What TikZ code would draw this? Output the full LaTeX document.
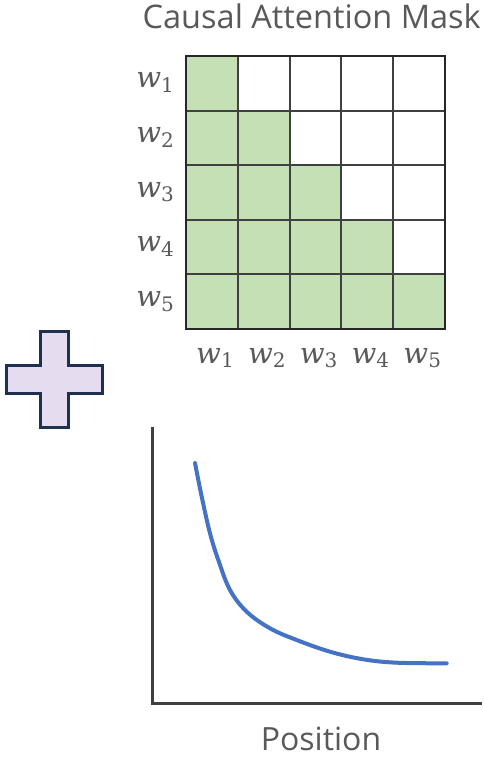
\documentclass[tikz,border=0pt]{standalone}
\usepackage{fontspec}
\setmainfont{Open Sans}
\newfontfamily\tokfont{DejaVu Serif}
\definecolor{maskgreen}{HTML}{C5E0B4}
\definecolor{labelgray}{HTML}{595959}
\definecolor{gridgray}{HTML}{404040}
\definecolor{plusfill}{HTML}{E6DCEF}
\definecolor{plusedge}{HTML}{1F3050}
\definecolor{curveblue}{HTML}{4472C4}
\newcommand{\tokw}[1]{{\tokfont\itshape w}\raisebox{-0.3ex}{\tokfont\fontsize{20}{20}\selectfont #1}}
\begin{document}
\begin{tikzpicture}[x=1pt,y=-1pt,every node/.style={text=labelgray,inner sep=0pt},
  tok/.style={font=\fontsize{29}{30}\selectfont},
  cell/.style={fill=maskgreen},
  gridline/.style={draw=gridgray,line width=2pt},
  axisline/.style={draw=gridgray,line width=3pt}]
  \useasboundingbox (0,0) rectangle (484,757);

  % Titulo
  \node[font=\fontsize{32.5}{36}\selectfont,anchor=base east] (title) at (481,29) {Causal Attention Mask};

  % Mascara causal
  \foreach \i in {1,...,5}
    \foreach \j in {1,...,\i}
      \fill[cell] (186+51.8*\j-51.8,56+54.6*\i-54.6) rectangle ++(51.8,54.6);
  \foreach \k in {1,...,4} {
    \draw[gridline] (186+51.8*\k,56) -- (186+51.8*\k,329);
    \draw[gridline] (186,56+54.6*\k) -- (445,56+54.6*\k);
  }
  \draw[draw=black!85,line width=2.5pt] (186,56) rectangle (445,329);

  % Etiquetas
  \foreach \i in {1,...,5} {
    \node[tok,anchor=base east] (r\i) at (174,88+54.6*\i-54.6) {\tokw{\i}};
    \node[tok,anchor=base] (c\i) at (215+51.8*\i-51.8,363) {\tokw{\i}};
  }

  % Signo mas
  \draw[draw=plusedge,fill=plusfill,line width=3pt,line join=miter]
    (40,331) -- (68,331) -- (68,365) -- (102,365) -- (102,393) -- (68,393)
    -- (68,427) -- (40,427) -- (40,393) -- (6,393) -- (6,365) -- (40,365) -- cycle;

  % Ejes
  \coordinate (ytop) at (152,427);
  \coordinate (origin) at (152,703);
  \coordinate (xend) at (482,703);
  \draw[axisline] (ytop) -- (origin) -- (xend);

  % Curva
  \draw[curveblue,line width=4pt,line cap=round] plot[smooth,tension=0.6] coordinates {
    (195,463) (201.7,496.7) (210,533.3) (218.3,560) (230,590) (246.7,611.7)
    (270,628.3) (296.7,640) (330,651.7) (363.3,659.3) (396.7,662.7) (446.7,663.3)};

  \node[font=\fontsize{32}{36}\selectfont,anchor=base] (xlabel) at (321,750) {Position};
\end{tikzpicture}
\end{document}
